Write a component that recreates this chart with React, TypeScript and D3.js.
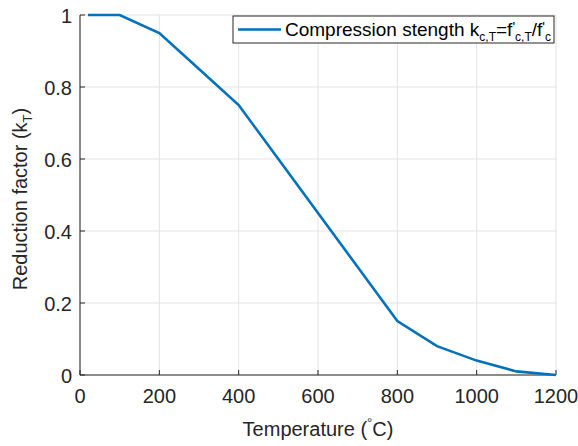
import React from "react";
import * as d3 from "d3";

const temps = [20, 100, 200, 300, 400, 500, 600, 700, 800, 900, 1000, 1100, 1200];
const kc = [1, 1, 0.95, 0.85, 0.75, 0.6, 0.45, 0.3, 0.15, 0.08, 0.04, 0.01, 0];
const xTicks = [0, 200, 400, 600, 800, 1000, 1200];
const yTicks = [0, 0.2, 0.4, 0.6, 0.8, 1];

const W = 578, H = 446;
const M = { left: 80, right: 556, top: 15, bottom: 375 };
const FONT = "Liberation Sans, Arial, Helvetica, sans-serif";
const AX = "#262626";
const FS = 20;

export default function App() {
  const x = d3.scaleLinear().domain([0, 1200]).range([M.left, M.right]);
  const y = d3.scaleLinear().domain([0, 1]).range([M.bottom, M.top]);
  const line = d3.line<number>().x((_, i) => x(temps[i])).y((d) => y(d));
  return (
    <svg width={W} height={H} style={{ position: "absolute", left: 0, top: 0, background: "#fff" }} fontFamily={FONT}>
      <rect x={0} y={0} width={W} height={H} fill="#fff" />
      {xTicks.map((t) => (
        <line key={"gx" + t} x1={x(t)} x2={x(t)} y1={M.top} y2={M.bottom} stroke="#e3e3e3" strokeWidth={1} />
      ))}
      {yTicks.map((t) => (
        <line key={"gy" + t} x1={M.left} x2={M.right} y1={y(t)} y2={y(t)} stroke="#e3e3e3" strokeWidth={1} />
      ))}
      <line x1={M.left} x2={M.right} y1={M.bottom} y2={M.bottom} stroke={AX} strokeWidth={1} />
      <line x1={M.left} x2={M.left} y1={M.top} y2={M.bottom} stroke={AX} strokeWidth={1} />
      {xTicks.map((t) => (
        <g key={"tx" + t}>
          <line x1={x(t)} x2={x(t)} y1={M.bottom} y2={M.bottom - 5} stroke={AX} />
          <text x={x(t)} y={M.bottom + 28} textAnchor="middle" fontSize={FS} fill={AX}>{t}</text>
        </g>
      ))}
      {yTicks.map((t) => (
        <g key={"ty" + t}>
          <line x1={M.left} x2={M.left + 5} y1={y(t)} y2={y(t)} stroke={AX} />
          <text x={M.left - 8} y={y(t) + 7.5} textAnchor="end" fontSize={FS} fill={AX}>{String(t)}</text>
        </g>
      ))}
      <path d={line(kc) || ""} fill="none" stroke="#0072BD" strokeWidth={2.6} />
      <text x={(M.left + M.right) / 2} y={436} textAnchor="middle" fontSize={FS} fill={AX}>
        Temperature (<tspan dy={-9} fontSize={13}>°</tspan><tspan dy={9}>C)</tspan>
      </text>
      <text transform={`translate(27,${(M.top + M.bottom) / 2 + 4}) rotate(-90)`} textAnchor="middle" fontSize={FS} fill={AX}>
        Reduction factor (k<tspan dy={5} fontSize={13}>T</tspan><tspan dy={-5}>)</tspan>
      </text>
      <g>
        <rect x={233} y={16} width={321} height={27} fill="#fff" stroke={AX} strokeWidth={1} />
        <line x1={238} x2={281} y1={29.5} y2={29.5} stroke="#0072BD" strokeWidth={2.6} />
        <text x={285} y={36} fontSize={19} fill="#000">
          Compression stength k<tspan dy={5} fontSize={12}>c,T</tspan>
          <tspan dy={-5}>=f</tspan><tspan dy={-4} fontSize={14}>'</tspan>
          <tspan dy={9} fontSize={12}>c,T</tspan>
          <tspan dy={-5}>/f</tspan><tspan dy={-4} fontSize={14}>'</tspan>
          <tspan dy={9} fontSize={12}>c</tspan>
        </text>
      </g>
    </svg>
  );
}
